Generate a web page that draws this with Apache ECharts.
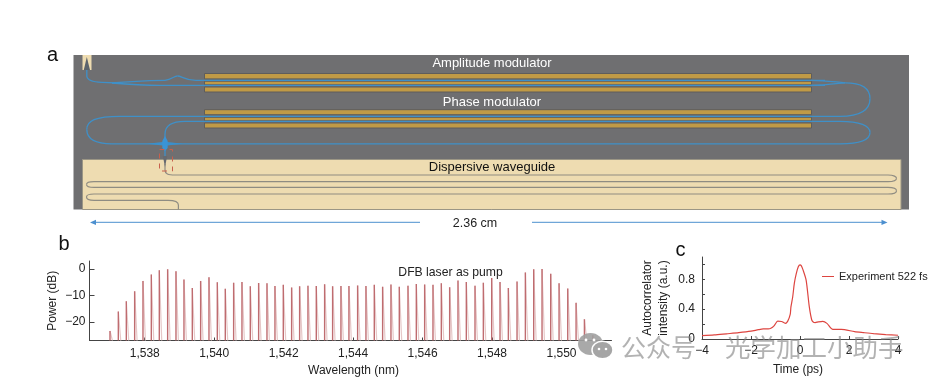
<!DOCTYPE html>
<html>
<head>
<meta charset="utf-8">
<style>html,body{margin:0;padding:0;background:#fff}#c{width:934px;height:384px}</style>
<script src="https://cdn.jsdelivr.net/npm/echarts@6/dist/echarts.min.js"></script>
</head>
<body>
<div id="c"></div>
<script>
// Panel b: frequency comb
const combWavelengths = [1537.00,1537.24,1537.47,1537.71,1537.95,1538.19,1538.42,1538.66,1538.90,1539.13,1539.37,1539.61,1539.85,1540.09,1540.32,1540.56,1540.80,1541.04,1541.28,1541.52,1541.75,1541.99,1542.23,1542.46,1542.70,1542.94,1543.18,1543.41,1543.65,1543.88,1544.13,1544.37,1544.61,1544.85,1545.09,1545.33,1545.58,1545.82,1546.06,1546.30,1546.54,1546.78,1547.02,1547.26,1547.51,1547.75,1547.99,1548.23,1548.47,1548.72,1548.96,1549.20,1549.44,1549.69,1549.93,1550.18,1550.42,1550.66,1550.90];
const combPower = [-23.4,-16.1,-12.2,-8.4,-4.5,-2.1,-0.5,-0.1,-0.9,-4.0,-7.2,-4.5,-3.1,-5.0,-7.5,-5.2,-4.9,-6.5,-5.3,-5.4,-6.4,-6.0,-7.0,-6.5,-6.3,-6.4,-5.8,-6.5,-6.4,-6.4,-6.2,-6.4,-6.0,-6.7,-5.9,-6.7,-6.3,-5.7,-5.9,-6.0,-5.4,-6.9,-4.4,-4.9,-6.3,-5.2,-3.4,-4.9,-7.2,-4.7,-1.3,-0.1,0.0,-1.8,-5.4,-7.4,-12.8,-19.0,-25.0];
const combTicks = [1538,1540,1542,1544,1546,1548,1550];
const powerTicks = [-20,-10,0];
// Panel c: autocorrelation
const acTime = [-4,-3.5,-3,-2.5,-2,-1.7,-1.5,-1.3,-1.19,-1.05,-0.91,-0.75,-0.6,-0.5,-0.4,-0.37,-0.3,-0.23,-0.15,-0.07,0,0.05,0.12,0.25,0.38,0.48,0.55,0.62,0.75,0.93,1.1,1.34,1.68,2.23,2.6,3,3.5,4];
const acValue = [0.045,0.055,0.07,0.085,0.105,0.125,0.135,0.135,0.143,0.18,0.24,0.235,0.21,0.24,0.33,0.43,0.56,0.75,0.88,0.97,0.995,0.985,0.93,0.79,0.43,0.255,0.225,0.22,0.23,0.237,0.21,0.13,0.13,0.098,0.085,0.072,0.06,0.05];
const timeTicks = [-4,-2,0,2,4];
const acMinorTicks = [0,0.2,0.4,0.6,0.8,1.0];
const acLabels = [0,0.4,0.8];

const FONT = '"Liberation Sans", Arial, sans-serif';
const INK = '#222';
const minus = v => String(v).replace('-', '\u2212');
const FLOOR = -27;

const darkEdge = [], lightEdge = [];
combWavelengths.forEach((w, i) => {
  darkEdge.push([w, FLOOR], [w, combPower[i]], [null, null]);
  lightEdge.push([w, combPower[i]], [w + 0.07, FLOOR], [null, null]);
});

// ---- schematic helpers (panel a) ----
const BLUE = '#3f90c8', GUIDE = '#8f8c82';
const seg = (c, w, s) => s.length === 4
  ? {type:'line', z:3, shape:{x1:s[0],y1:s[1],x2:s[2],y2:s[3]}, style:{stroke:c,lineWidth:w,fill:null}}
  : {type:'bezierCurve', z:3, shape:{x1:s[0],y1:s[1],cpx1:s[2],cpy1:s[3],cpx2:s[4],cpy2:s[5],x2:s[6],y2:s[7]}, style:{stroke:c,lineWidth:w,fill:null}};
const rect = (x,y,w,h,fill,stroke) => ({type:'rect', z:2, shape:{x,y,width:w,height:h}, style:{fill,stroke:stroke||null,lineWidth:stroke?1:0}});
const poly = (pts,fill) => ({type:'polygon', z:4, shape:{points:pts}, style:{fill}});
const label = (text,x,y,size,fill,align) => ({type:'text', z:6, style:{text,x,y,fill,font:size+'px '+FONT,align:align||'center',verticalAlign:'middle'}});

const blueSegs = [
  [86.8,68,86.8,76], [86.8,76,87,80,92,82,102,82.3], [102,82.3,118,83],
  [112,83,128,81.5,140,80.8,165,80.4], [165,80.4,172,79.5,174,76,177.5,76], [177.5,76,182,76,184,80.3,196,80.3], [196,80.3,825,80.3],
  [112,83,130,84.5,140,85.3,160,85.3], [160,85.3,825,85.3],
  [811,80.3,825,80.5,835,82,845,82.8], [811,85.3,825,85.3,835,83.8,845,82.8],
  [845,82.8,862,82.8,870,88,870,98.5], [870,98.5,870,110,860,116.3,840,116.3],
  [840,116.3,120,116.3], [120,116.3,95,116.3,86.8,121,86.8,129.5], [86.8,129.5,86.8,139,95,143.8,112,143.8],
  [112,143.8,840,143.8], [840,143.8,860,143.8,870,140,870,132.5], [870,132.5,870,126,860,121.3,840,121.3],
  [840,121.3,185,121.3], [185,121.3,172,121.3,165,125,165,134], [165,134,165,160]
];
const guideSegs = [
  [165,164,165,170], [165,170,165,174,168,175,175,175], [175,175,888,175],
  [888,175,894,175,896.5,177,896.5,178.3], [896.5,178.3,896.5,180,894,181.7,888,181.7], [888,181.7,94,181.7],
  [94,181.7,89,181.7,86.5,183,86.5,184.5], [86.5,184.5,86.5,186,89,187.4,94,187.4], [94,187.4,888,187.4],
  [888,187.4,894,187.4,896.5,189,896.5,190.7], [896.5,190.7,896.5,192.5,894,194,888,194], [888,194,94,194],
  [94,194,89,194,86.5,195.5,86.5,197], [86.5,197,86.5,199,89,200.4,94,200.4], [94,200.4,168,200.4],
  [168,200.4,175,200.4,178.4,202,178.4,205], [178.4,205,178.4,209.5]
];
const electrodes = [[73.5,5.4],[81.2,3.6],[87,5],[109.7,5],[117.3,3.5],[123,5]];

const graphics = [
  rect(73.5,55,835.5,154.5,'#6f6f71'),
  rect(82.5,159.5,818.5,50,'#eedcb1','#9b9685'),
  rect(82.5,55,9,15,'#eedcb1'),
  poly([[86.8,57],[90,70],[83.8,70]],'#5c646c'),
  ...electrodes.map(e => rect(204.5,e[0],607,e[1],'#c09a46','#5e5d5c')),
  ...blueSegs.map(s => seg(BLUE,1.3,s)),
  ...guideSegs.map(s => seg(GUIDE,1.2,s)),
  poly([[147,143.8],[165,141.8],[183,143.8],[165,145.8]],'#3a90cc'),
  poly([[165,136],[167.7,141],[167.7,148],[165,151],[162.3,148],[162.3,141]],'#3a94d6'),
  poly([[162.8,156],[167.2,156],[165,167]],'#666a70'),
  {type:'rect', z:5, shape:{x:159.5,y:149.5,width:13,height:21.5},
    style:{fill:null,stroke:'#c8604c',lineWidth:1,lineDash:[5,5]}},
  label('Amplitude modulator',492,63,13,'#fff'),
  label('Phase modulator',492,102,13,'#fff'),
  label('Dispersive waveguide',492,167.5,13,'#111'),
  label('2.36 cm',475,224,12.5,INK),
  seg('#6fa6d8',1.2,[94,222.4,420,222.4]),
  seg('#6fa6d8',1.2,[532,222.4,884,222.4]),
  poly([[90,222.4],[96,219.8],[96,225]],'#4c8fcf'),
  poly([[887.5,222.4],[881.5,219.8],[881.5,225]],'#4c8fcf'),
  label('a',47,55.5,20,'#111','left'),
  label('b',58.5,244,20,'#111','left'),
  label('c',675.5,250,20,'#111','left'),
  label('DFB laser as pump',450.5,272.5,12.2,INK),
  // watermark
  {type:'ellipse', z:8, shape:{cx:590.5,cy:344,rx:12.5,ry:11}, style:{fill:'rgba(160,160,160,0.9)'}},
  {type:'circle', z:9, shape:{cx:586,cy:340,r:1.4}, style:{fill:'#fff'}},
  {type:'circle', z:9, shape:{cx:594,cy:340,r:1.4}, style:{fill:'#fff'}},
  {type:'ellipse', z:9, shape:{cx:602.5,cy:350,rx:10.5,ry:8.8}, style:{fill:'rgb(165,165,165)',stroke:'#fff',lineWidth:1.5}},
  {type:'circle', z:10, shape:{cx:599,cy:349,r:1.3}, style:{fill:'#fff'}},
  {type:'circle', z:10, shape:{cx:606,cy:349,r:1.3}, style:{fill:'#fff'}},
  {type:'text', z:8, style:{text:'公众号',x:621,y:347,fill:'rgba(130,130,130,0.62)',font:'25px "Noto Sans CJK SC"',align:'left',verticalAlign:'middle'}},
  {type:'text', z:8, style:{text:'光学加工小助手',x:725,y:347,fill:'rgba(130,130,130,0.62)',font:'25.5px "Noto Sans CJK SC"',align:'left',verticalAlign:'middle'}}
];

const axisText = {color:INK, fontFamily:FONT, fontSize:12};
const axisLine = {show:true, onZero:false, lineStyle:{color:'#444', width:1}};
const inTick = len => ({show:true, inside:true, length:len, lineStyle:{color:'#444', width:1}});

const chart = echarts.init(document.getElementById('c'), null, {renderer:'canvas'});
chart.setOption({
  animation:false,
  backgroundColor:'#fff',
  textStyle:{fontFamily:FONT},
  grid:[
    {left:89.5, top:261, width:522, height:79.5},
    {left:702, top:257, width:196, height:82}
  ],
  xAxis:[
    {type:'value', gridIndex:0, min:1536.41, max:1551.44, splitLine:{show:false},
     name:'Wavelength (nm)', nameLocation:'middle', nameGap:24, nameTextStyle:{...axisText, padding:[0,0,0,6]},
     axisLine, axisTick:{...inTick(3), customValues:combTicks},
     axisLabel:{...axisText, margin:7, customValues:combTicks, formatter:v => String(v).replace(/^(\d)(\d{3})$/, '$1,$2')}},
    {type:'value', gridIndex:1, min:-4, max:4, interval:2, splitLine:{show:false},
     name:'Time (ps)', nameLocation:'middle', nameGap:25, nameTextStyle:{...axisText, padding:[0,4,0,0]},
     axisLine, axisTick:inTick(3),
     axisLabel:{...axisText, margin:6, formatter:minus, customValues:timeTicks}}
  ],
  yAxis:[
    {type:'value', gridIndex:0, min:FLOOR, max:3, splitLine:{show:false},
     name:'Power (dB)', nameLocation:'middle', nameGap:31, nameRotate:90, nameMoveOverlap:false,
     nameTextStyle:{...axisText, align:'center'},
     axisLine, axisTick:{...inTick(5), customValues:powerTicks},
     axisLabel:{...axisText, margin:4, customValues:powerTicks, formatter:minus}},
    {type:'value', gridIndex:1, min:0, max:1.1, splitLine:{show:false},
     name:'Autocorrelator\nintensity (a.u.)', nameLocation:'middle', nameGap:30, nameRotate:90,
     nameTextStyle:{...axisText, lineHeight:16, align:'center'},
     axisLine, axisTick:{...inTick(3), customValues:acMinorTicks},
     axisLabel:{...axisText, margin:7, customValues:acLabels, formatter:v => String(v)}}
  ],
  legend:{show:true, left:817, top:266, itemWidth:12, itemHeight:14, itemGap:5,
    data:[{name:'Experiment 522 fs', icon:'path://M0 0H12V1H0Z'}],
    textStyle:{color:INK, fontFamily:FONT, fontSize:11}},
  series:[
    {name:'Comb skirt', type:'line', xAxisIndex:0, yAxisIndex:0, data:lightEdge, showSymbol:false, symbol:'none', connectNulls:false,
     lineStyle:{color:'#e6c8c8', width:1.2}, silent:true},
    {name:'DFB laser as pump', type:'line', xAxisIndex:0, yAxisIndex:0, data:darkEdge, showSymbol:false, symbol:'none', connectNulls:false,
     lineStyle:{color:'#bf6c70', width:1.4}, silent:true},
    {name:'Experiment 522 fs', type:'line', xAxisIndex:1, yAxisIndex:1, data:acTime.map((t,i)=>[t,acValue[i]]),
     showSymbol:false, symbol:'none', smooth:0.25, lineStyle:{color:'#dd4540', width:1.2}, itemStyle:{color:'#dd4540'}}
  ],
  graphic:{elements:graphics}
});
</script>
</body>
</html>
